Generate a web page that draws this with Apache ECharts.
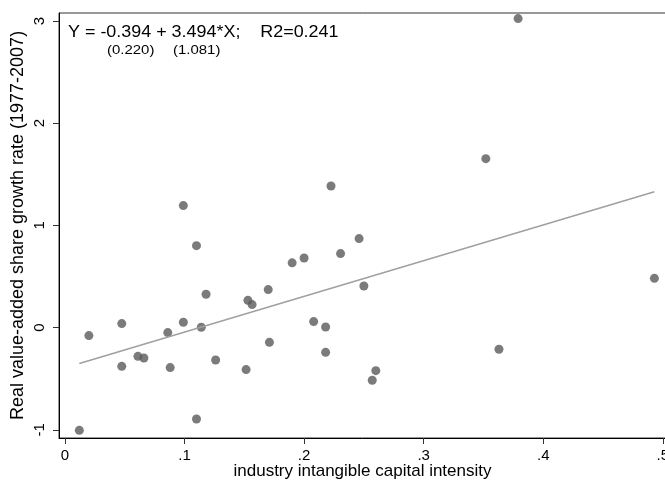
<!DOCTYPE html>
<html>
<head>
<meta charset="utf-8">
<style>
  html, body { margin: 0; padding: 0; background: #fff; }
  #chart { width: 665px; height: 481px; }
</style>
<script src="https://cdn.jsdelivr.net/npm/echarts@6/dist/echarts.min.js"></script>
</head>
<body>
<div id="chart"></div>
<script>
// intangible capital intensity (x) and value-added share growth (y)
const intensity = [
  0.012, 0.020, 0.0475, 0.0475, 0.061, 0.066, 0.086, 0.088, 0.099, 0.099,
  0.110, 0.110, 0.114, 0.118, 0.126, 0.1515, 0.153, 0.1565, 0.170, 0.171,
  0.190, 0.200, 0.208, 0.218, 0.218, 0.2225, 0.246, 0.2305, 0.250, 0.260,
  0.257, 0.352, 0.363, 0.379, 0.493
]
const growth = [
  -1.005, -0.078, 0.039, -0.379, -0.281, -0.297, -0.049, -0.391, 1.194, 0.052,
  0.802, -0.894, 0.003, 0.326, -0.317, -0.411, 0.267, 0.225, 0.372, -0.144,
  0.634, 0.681, 0.059, 0.006, -0.242, 1.386, 0.871, 0.724, 0.407, -0.421,
  -0.515, 1.653, -0.212, 3.023, 0.482
]
// fitted line end points
const fitX = [0.012, 0.493]
const fitY = [-0.352, 1.329]

const xTicks = [0, 0.1, 0.2, 0.3, 0.4, 0.5]
const yTicks = [-1, 0, 1, 2, 3]

const font = '"Liberation Sans", Arial, sans-serif'

const chart = echarts.init(document.getElementById('chart'))

chart.setOption({
  backgroundColor: '#fff',
  animation: false,
  grid: {
    left: 59, right: -1, top: 13, bottom: 43,
    outerBoundsMode: 'none',
    show: true, borderColor: '#333', borderWidth: 1
  },
  xAxis: {
    type: 'value',
    min: -0.005,
    max: 0.5027,
    name: 'industry intangible capital intensity',
    nameLocation: 'middle',
    nameGap: 25,
    nameMoveOverlap: false,
    nameTextStyle: { fontFamily: font, fontSize: 17, color: '#000' },
    axisLine: { onZero: false, lineStyle: { color: '#000', width: 1 } },
    axisTick: { customValues: xTicks, length: 6, lineStyle: { color: '#333' } },
    axisLabel: {
      customValues: xTicks,
      margin: 10,
      fontFamily: font,
      fontSize: 15,
      color: '#000',
      formatter: (v) => (v === 0 ? '0' : String(v).replace('0.', '.'))
    },
    splitLine: { show: false }
  },
  yAxis: {
    type: 'value',
    min: -1.08,
    max: 3.078,
    name: 'Real value-added share growth rate (1977-2007)',
    nameLocation: 'middle',
    nameGap: 32,
    nameMoveOverlap: false,
    nameTextStyle: { fontFamily: font, fontSize: 18, color: '#000' },
    axisLine: { onZero: false, lineStyle: { color: '#000', width: 1 } },
    axisTick: { customValues: yTicks, length: 6, lineStyle: { color: '#333' } },
    axisLabel: {
      customValues: yTicks,
      rotate: 90,
      margin: 12,
      fontFamily: font,
      fontSize: 15,
      color: '#000'
    },
    splitLine: { show: false }
  },
  graphic: [
    {
      type: 'text', x: 68, y: 25, scaleX: 1.12,
      style: { text: 'Y = -0.394 + 3.494*X;    R2=0.241', font: '16px ' + font, fill: '#000' }
    },
    {
      type: 'text', x: 107, y: 44, scaleX: 1.15,
      style: { text: '(0.220)', font: '13px ' + font, fill: '#000' }
    },
    {
      type: 'text', x: 173, y: 44, scaleX: 1.15,
      style: { text: '(1.081)', font: '13px ' + font, fill: '#000' }
    }
  ],
  series: [
    {
      type: 'scatter',
      symbolSize: 9,
      itemStyle: { color: '#5a5a5a' },
      data: intensity.map((x, i) => [x, growth[i]]),
      z: 2
    },
    {
      type: 'line',
      symbol: 'none',
      lineStyle: { color: '#a0a0a0', width: 1.5 },
      data: fitX.map((x, i) => [x, fitY[i]]),
      z: 3
    }
  ]
})
</script>
</body>
</html>
